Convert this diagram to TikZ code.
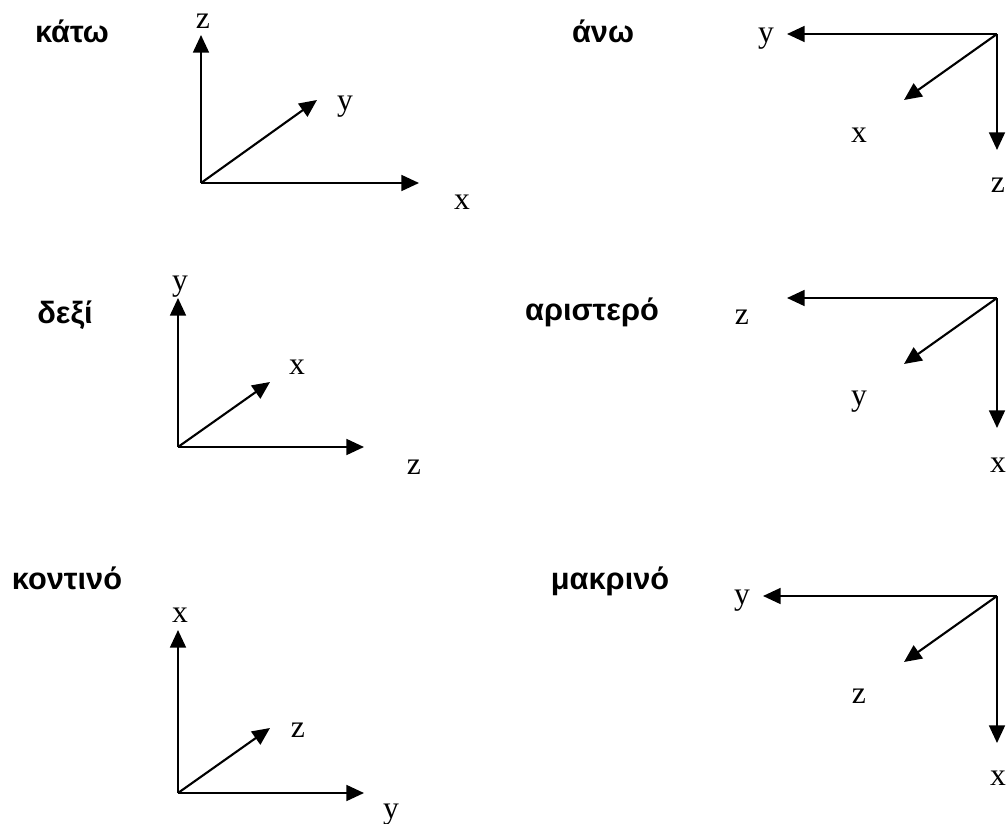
\documentclass[tikz,border=0pt]{standalone}
\usepackage{fontspec}
\setmainfont{Liberation Serif}
\newfontfamily\titlefont{Liberation Sans}
\usetikzlibrary{arrows.meta}

\tikzset{
  axis/.style={line width=1.2pt, -{Triangle[length=10pt,width=9pt]}},
  lbl/.style={font=\fontsize{18}{18}\selectfont, inner sep=0pt,
    text height=8.3pt, text depth=0pt},
  ttl/.style={font=\titlefont\bfseries\fontsize{17.5}{17.5}\selectfont, inner sep=0pt,
    text height=9.1pt, text depth=0pt}
}

\begin{document}
\begin{tikzpicture}[x=0.02cm,y=-0.02cm]
\useasboundingbox (0,0) rectangle (1007,824);

% Kato
\node[ttl] (tkato) at (72,35) {κάτω};
\coordinate (o1) at (201,183);
\coordinate (o1z) at (201,35);
\coordinate (o1x) at (419,183);
\coordinate (o1y) at (317,100);
\draw[axis] (o1) -- (o1z);
\draw[axis] (o1) -- (o1x);
\draw[axis] (o1) -- (o1y);
\node[lbl] (l1z) at (203,21) {z};
\node[lbl] (l1y) at (345,103) {y};
\node[lbl] (l1x) at (462,202) {x};

% Ano
\node[ttl] (tano) at (603,35) {άνω};
\coordinate (o2) at (997,34);
\coordinate (o2y) at (787,34);
\coordinate (o2z) at (997,150);
\coordinate (o2x) at (904,100);
\draw[axis] (o2) -- (o2y);
\draw[axis] (o2) -- (o2z);
\draw[axis] (o2) -- (o2x);
\node[lbl] (l2y) at (766,35) {y};
\node[lbl] (l2x) at (859,135) {x};
\node[lbl] (l2z) at (998,185) {z};

% Dexi
\node[ttl] (tdexi) at (65,316) {δεξί};
\coordinate (o3) at (178,447);
\coordinate (o3y) at (178,298);
\coordinate (o3z) at (364,447);
\coordinate (o3x) at (270,382);
\draw[axis] (o3) -- (o3y);
\draw[axis] (o3) -- (o3z);
\draw[axis] (o3) -- (o3x);
\node[lbl] (l3y) at (180,283) {y};
\node[lbl] (l3x) at (297,367) {x};
\node[lbl] (l3z) at (414,467) {z};

% Aristero
\node[ttl] (taristero) at (592,313) {αριστερό};
\coordinate (o4) at (997,298);
\coordinate (o4z) at (787,298);
\coordinate (o4x) at (997,428);
\coordinate (o4y) at (904,364);
\draw[axis] (o4) -- (o4z);
\draw[axis] (o4) -- (o4x);
\draw[axis] (o4) -- (o4y);
\node[lbl] (l4z) at (742,317) {z};
\node[lbl] (l4y) at (859,398) {y};
\node[lbl] (l4x) at (998,465) {x};

% Kontino
\node[ttl] (tkontino) at (67,581) {κοντινό};
\coordinate (o5) at (178,793);
\coordinate (o5x) at (178,630);
\coordinate (o5y) at (364,793);
\coordinate (o5z) at (270,728);
\draw[axis] (o5) -- (o5x);
\draw[axis] (o5) -- (o5y);
\draw[axis] (o5) -- (o5z);
\node[lbl] (l5x) at (180,615) {x};
\node[lbl] (l5z) at (298,730) {z};
\node[lbl] (l5y) at (391,811) {y};

% Makrino
\node[ttl] (tmakrino) at (610,581) {μακρινό};
\coordinate (o6) at (997,596);
\coordinate (o6y) at (763,596);
\coordinate (o6x) at (997,743);
\coordinate (o6z) at (904,662);
\draw[axis] (o6) -- (o6y);
\draw[axis] (o6) -- (o6x);
\draw[axis] (o6) -- (o6z);
\node[lbl] (l6y) at (742,597) {y};
\node[lbl] (l6z) at (859,696) {z};
\node[lbl] (l6x) at (998,778) {x};

\end{tikzpicture}
\end{document}
